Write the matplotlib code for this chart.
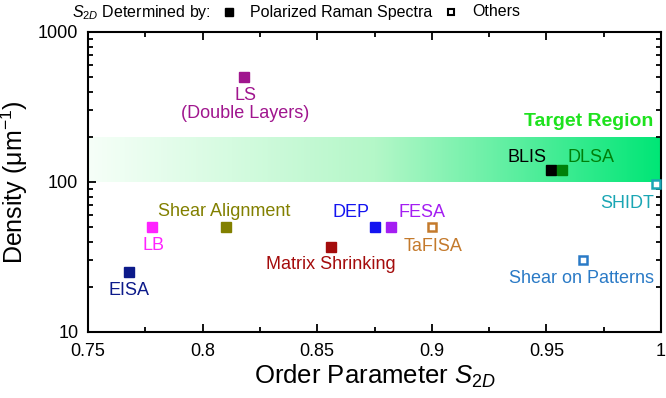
import numpy as np
import matplotlib
matplotlib.use('Agg')
import matplotlib.pyplot as plt
from matplotlib.colors import LinearSegmentedColormap
from matplotlib.ticker import FixedLocator, NullFormatter, LogLocator

plt.rcParams['font.family'] = ['Liberation Sans', 'DejaVu Sans']
plt.rcParams['mathtext.fontset'] = 'custom'
plt.rcParams['mathtext.rm'] = 'Liberation Sans'
plt.rcParams['mathtext.it'] = 'Liberation Sans:italic'

# 数据 (Polarized Raman = 实心, Others = 空心)
names = ['LS\n(Double Layers)', 'BLIS', 'DLSA', 'SHIDT', 'FESA', 'TaFISA',
         'Shear on Patterns', 'DEP', 'LB', 'Shear Alignment', 'EISA', 'Matrix Shrinking']
s2d = [0.818, 0.952, 0.957, 0.998, 0.882, 0.900, 0.966, 0.875, 0.778, 0.810, 0.768, 0.856]
density = [500, 120, 120, 97, 50, 50, 30, 50, 50, 50, 25, 37]
filled = [True, True, True, False, True, False, False, True, True, True, True, True]
colors = ['#a0168e', '#000000', '#00800a', '#1aa6b4', '#a41ef2', '#c47a2c',
          '#2a7ac6', '#1414f0', '#ff22ff', '#828000', '#0c1a8a', '#a40c0c']
# 标签偏移 (points) 和对齐
offsets = [(1, -7), (-3, 6), (4, 6), (-2, -8), (23, 7.5), (1, -8),
           (-1, -7), (-17, 7.5), (1, -7), (-1, 8), (0, -7), (0, -7)]
aligns = [('center', 'top'), ('right', 'baseline'), ('left', 'baseline'), ('right', 'top'),
          ('center', 'baseline'), ('center', 'top'), ('center', 'top'), ('center', 'baseline'),
          ('center', 'top'), ('center', 'baseline'), ('center', 'top'), ('center', 'top')]

fig = plt.figure(figsize=(6.66, 3.98), dpi=100)
ax = fig.add_axes([88/666, 1-332/398, 573/666, 300/398])

ax.set_yscale('log')

# 目标区域渐变
cmap = LinearSegmentedColormap.from_list('tg', ['#f6fff8', '#b4f7c8', '#00e676'])
grad = np.linspace(0, 1, 256).reshape(1, -1)
ax.imshow(grad, cmap=cmap, extent=[0.75, 1.0, 100, 200], aspect='auto', zorder=0)
ax.set_ylim(10, 1000)
ax.set_xlim(0.75, 1.0)
ax.text(0.9965, 236, 'Target Region', color='#1ee21e', fontsize=14, fontweight='bold',
        ha='right', va='baseline')

for n, x, y, f, c, off, al in zip(names, s2d, density, filled, colors, offsets, aligns):
    if f:
        ax.plot(x, y, 's', ms=6.5, color=c, mec=c, zorder=3, clip_on=False)
    else:
        ax.plot(x, y, 's', ms=5.5, mfc='white', mec=c, mew=1.8, zorder=3, clip_on=False)
    ax.annotate(n, (x, y), xytext=off, textcoords='offset points', ha=al[0], va=al[1],
                color=c, fontsize=13, multialignment='center', linespacing=1.1)

ax.set_xticks([0.75, 0.8, 0.85, 0.9, 0.95, 1.0])
ax.set_xticklabels(['0.75', '0.8', '0.85', '0.9', '0.95', '1'])
ax.xaxis.set_minor_locator(FixedLocator([0.775, 0.825, 0.875, 0.925, 0.975]))
ax.set_yticks([10, 100, 1000])
ax.set_yticklabels(['10', '100', '1000'])
ax.yaxis.set_minor_locator(LogLocator(base=10, subs=np.arange(2, 10)))
ax.yaxis.set_minor_formatter(NullFormatter())

ax.tick_params(which='both', direction='in', top=True, right=True, labelsize=13, width=1.3)
ax.tick_params(which='major', length=6)
ax.tick_params(which='minor', length=3.5)
ax.tick_params(axis='x', pad=8)
ax.tick_params(axis='y', pad=7)
for sp in ax.spines.values():
    sp.set_linewidth(1.5)

ax.set_xlabel('Order Parameter $\\mathit{S}_{\\mathit{2D}}$', fontsize=18.5, labelpad=2)
ax.set_ylabel('Density (μm$^{-1}$)', fontsize=18)
ax.yaxis.set_label_coords(-58/573, 0.5)

# 顶部图例
hy = 1 - 12/398
fig.text(72/666, hy, '$\\mathit{S}_{\\mathit{2D}}$ Determined by:', fontsize=11.5, va='center')
fig.lines.append(plt.Line2D([229/666], [hy], marker='s', ms=5.5, color='black',
                            transform=fig.transFigure))
fig.text(250/666, hy, 'Polarized Raman Spectra', fontsize=11.5, va='center')
fig.lines.append(plt.Line2D([451/666], [hy], marker='s', ms=5, mfc='white', mec='black',
                            mew=1.5, transform=fig.transFigure))
fig.text(472/666, hy, 'Others', fontsize=11.5, va='center')

fig.savefig('out.png', dpi=100)
